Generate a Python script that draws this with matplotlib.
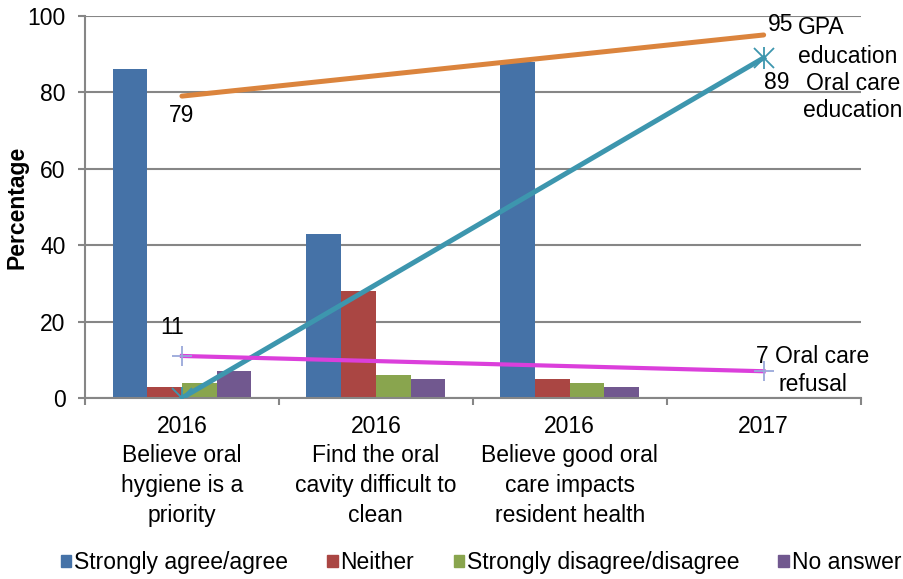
import matplotlib
matplotlib.use('Agg')
import matplotlib.pyplot as plt
from matplotlib.patches import Patch
import numpy as np

plt.rcParams['font.family'] = ['Liberation Sans', 'DejaVu Sans']

# bar data (survey 2016)
categories = ['2016\nBelieve oral\nhygiene is a\npriority',
              '2016\nFind the oral\ncavity difficult to\nclean',
              '2016\nBelieve good oral\ncare impacts\nresident health',
              '2017']
series_names = ['Strongly agree/agree', 'Neither', 'Strongly disagree/disagree', 'No answer']
agree = [86, 43, 88, 0]
neither = [3, 28, 5, 0]
disagree = [4, 6, 4, 0]
no_answer = [7, 5, 3, 0]
bar_colors = ['#4572A7', '#AA4643', '#89A54E', '#71588F']

# line data (first and last category only)
line_x = [0, 3]
gpa_edu = [79, 95]
oral_edu = [0, 89]
oral_refusal = [11, 7]

fig = plt.figure(figsize=(9.04, 5.79), dpi=100)
ax = fig.add_axes([0.094, 0.3126, 0.858, 0.66])

x = np.arange(len(categories))
w = 0.179
for k, vals in enumerate([agree, neither, disagree, no_answer]):
    ax.bar(x[:3] + (k - 1.5) * w, vals[:3], width=w, color=bar_colors[k], zorder=2)

ax.plot(line_x, gpa_edu, color='#DB843D', lw=3.6, solid_capstyle='round', zorder=4)
ax.plot(line_x, oral_edu, color='#3D96AE', lw=3.6, zorder=4)
ax.plot(line_x, oral_edu, 'x', color='#3D96AE', ms=14, mew=1.3, zorder=5)
ax.plot(line_x, oral_edu, '|', color='#3D96AE', ms=16, mew=1.3, zorder=5)
ax.plot(line_x, oral_refusal, color='#DB3FDB', lw=3, zorder=4)
ax.plot(line_x, oral_refusal, '+', color='#9AA8DA', ms=14, mew=1.3, zorder=5)

fs = 16.5
def lab(txt, xy, off, **kw):
    ax.annotate(txt, xy=xy, xytext=off, textcoords='offset pixels',
                ha='center', va='center', fontsize=fs, zorder=6, **kw)

lab('79', (0, 79), (0, -19))
lab('11', (0, 11), (-10, 28))
lab('95', (3, 95), (17, 10))
lab('GPA', (3, 95), (58, 7))
lab('education', (3, 95), (84, -22))
lab('89', (3, 89), (13, -25))
lab('Oral care\neducation', (3, 89), (89, -39), linespacing=1.25)
lab('7 Oral care\nrefusal', (3, 7), (49, 1), linespacing=1.25)

ax.set_xlim(-0.5, 3.5)
ax.set_ylim(0, 100)
ax.set_yticks(range(0, 101, 20))
ax.yaxis.grid(True, color='#868686', lw=1.5, zorder=0)
ax.set_axisbelow(True)

ax.set_xticks([-0.5, 0.5, 1.5, 2.5, 3.5])
ax.set_xticklabels([])
ax.set_xticks(x, minor=True)
ax.set_xticklabels(categories, minor=True, fontsize=fs, linespacing=1.37, va='top')
ax.tick_params(axis='x', which='minor', length=0, pad=12)
ax.tick_params(axis='x', which='major', length=5, width=1.5, color='#868686')
ax.tick_params(axis='y', length=5, width=1.5, color='#868686', labelsize=fs, pad=9)

for s in ['top', 'right']:
    ax.spines[s].set_visible(False)
for s in ['left', 'bottom']:
    ax.spines[s].set_color('#868686')
    ax.spines[s].set_linewidth(1.5)

ax.set_ylabel('Percentage', fontsize=fs, fontweight='bold', va='center')
ax.yaxis.set_label_coords(-0.088, 0.5)

handles = [Patch(color=c) for c in bar_colors]
fig.legend(handles, series_names, loc='center', bbox_to_anchor=(0.532, 0.028),
           ncol=4, frameon=False, fontsize=fs, handlelength=0.45, handleheight=0.45,
           handletextpad=0.12, columnspacing=1.72)

fig.savefig('out.png', dpi=100)
